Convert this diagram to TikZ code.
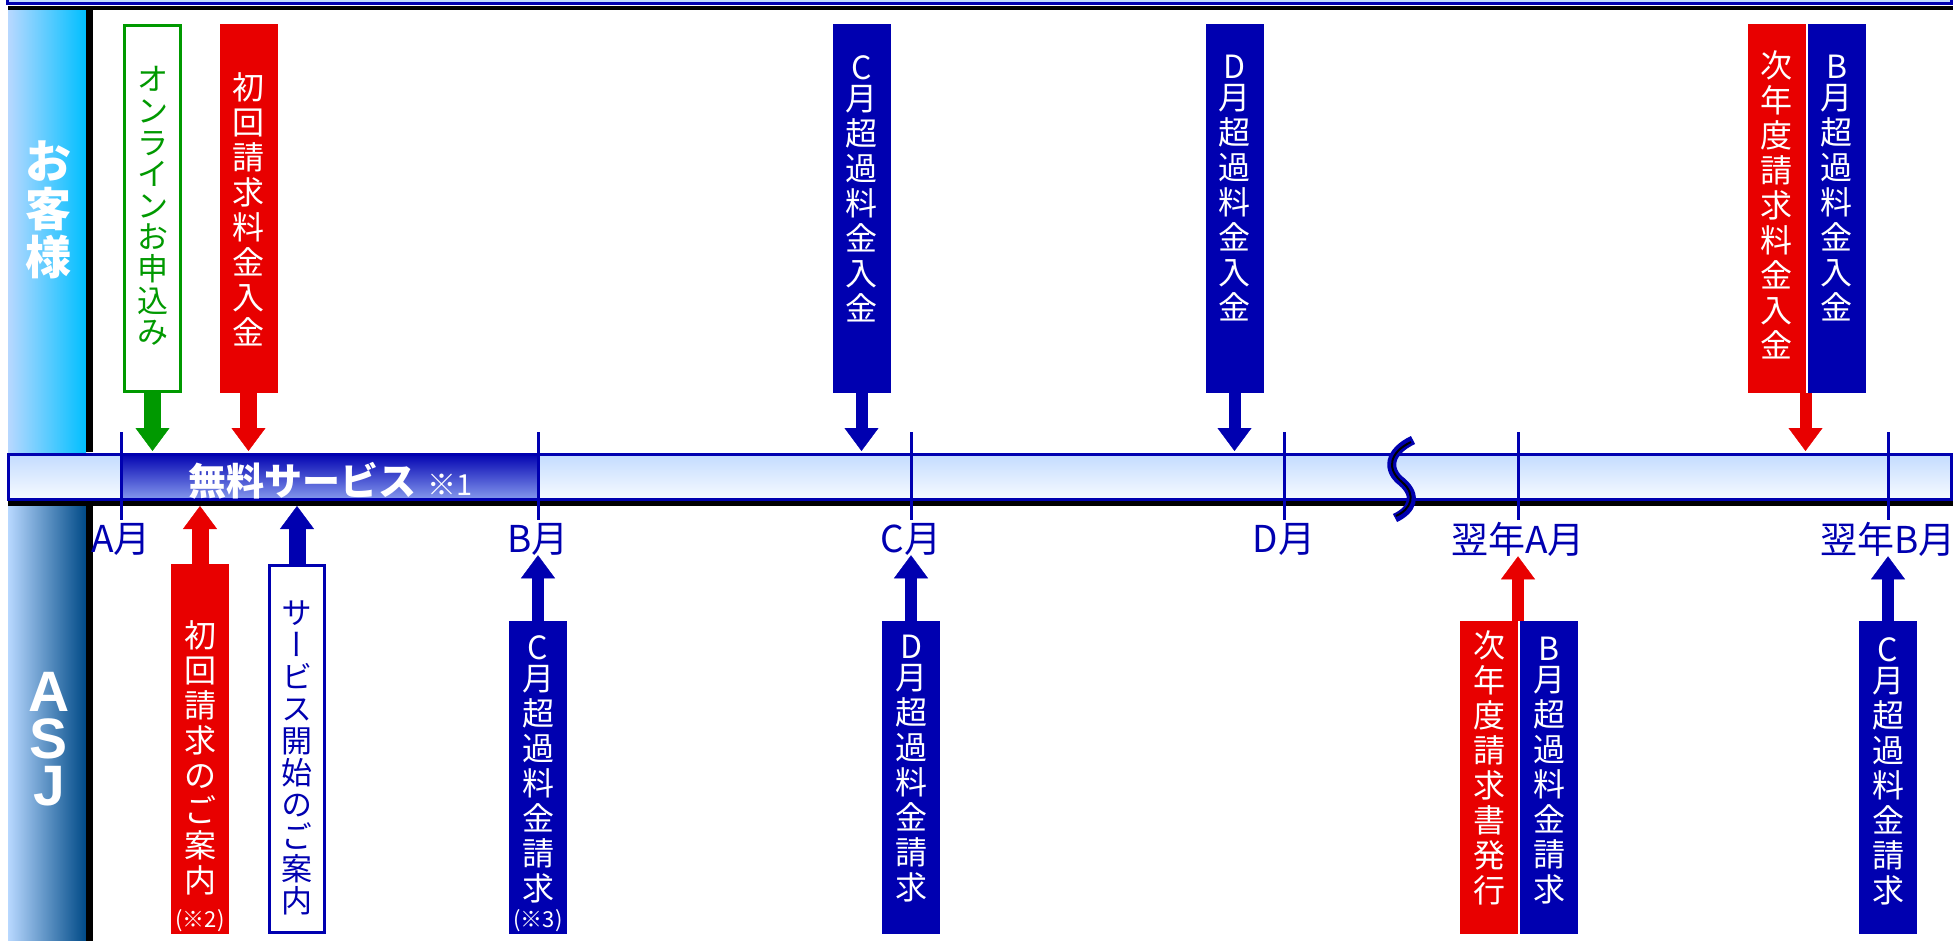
\documentclass[tikz,border=0pt]{standalone}
\usepackage{fontspec}
\setmainfont{Noto Sans CJK JP}
\newfontfamily\vjp{Noto Sans CJK JP}[RawFeature=+vert]
\newfontfamily\arialb{Liberation Sans}
\usetikzlibrary{arrows.meta, positioning}
\definecolor{asjred}{RGB}{232,0,0}
\definecolor{asjblue}{RGB}{0,0,176}
\definecolor{asjgreen}{RGB}{0,153,0}
\definecolor{barlight}{RGB}{194,219,255}
\definecolor{barwhite}{RGB}{248,251,255}
\definecolor{barfade}{RGB}{135,155,238}
\definecolor{edgelight}{RGB}{184,216,255}
\definecolor{headcyan}{RGB}{0,191,255}
\definecolor{asjsteel}{RGB}{45,112,178}
\definecolor{asjnavy}{RGB}{0,74,135}

\begin{document}
\begin{tikzpicture}[x=1pt, y=-1pt,
  box/.style = {minimum width=58pt, inner sep=0pt, outer sep=0pt},
  topbox/.style = {box, minimum height=369pt},
  lowbox/.style = {box, minimum height=370pt},
  billbox/.style = {box, minimum height=313pt},
  vt/.style = {align=center, inner sep=0pt, text=white, font=\fontsize{32}{35}\selectfont},
  month/.style = {inner sep=0pt, text=asjblue, font=\fontsize{37}{37}\selectfont},
  arr/.style = {line width=#1, -{Triangle[length=23pt, width=34pt, line width=0.4pt]}},
  arr/.default = 12pt,
  tick/.style = {asjblue, line width=3pt}]
\useasboundingbox (0,0) rectangle (1957,941);

\path[left color=edgelight, middle color=headcyan, right color=headcyan] (8,10) rectangle (86,452);
\path[left color=edgelight, middle color=asjsteel, right color=asjnavy] (8,506) rectangle (86,941);
\fill[black] (86,10) rectangle (93,452);
\fill[black] (86,506) rectangle (93,941);
\filldraw[fill=barlight, draw=asjblue, line width=3pt] (7,-20) rectangle (1951,4);
\fill[black] (8,6) rectangle (1953,10);

\path[top color=barlight, bottom color=barwhite] (8,453) rectangle (1951,500);
\path[top color=asjblue, middle color=asjblue!92!white, bottom color=barfade] (121,453) rectangle (538,500);
\draw[asjblue, line width=3pt] (8,454) rectangle (1951,499);
\fill[black] (8,501) rectangle (1953,506);
\draw[asjblue, line width=9pt] (1413,440) .. controls (1388,452) and (1386,470) .. (1402,482) .. controls (1418,496) and (1412,510) .. (1395,518);
\draw[black, line width=2pt] (1411,442) .. controls (1388,453) and (1387,470) .. (1402,482) .. controls (1417,495) and (1411,509) .. (1396,516);

\draw[tick] (121,432) -- (121,520);
\draw[tick] (538,432) -- (538,520);
\draw[tick] (911,432) -- (911,520);
\draw[tick] (1284,432) -- (1284,520);
\draw[tick] (1518,432) -- (1518,520);
\draw[tick] (1888,432) -- (1888,520);

\node[anchor=base west, inner sep=0pt, text=white, font=\bfseries\fontsize{38}{38}\selectfont] (free) at (188,495) {無料サービス\hspace{11pt}{\mdseries\fontsize{29}{29}\selectfont ※1}};
\node[align=center, inner sep=0pt, text=white, font=\bfseries\fontsize{46}{48}\selectfont] (cust) at (48,210) {お\\客\\様};
\node[align=center, inner sep=0pt, text=white, font=\arialb\bfseries\fontsize{57}{47}\selectfont] (asj) at (49,739) {A\\S\\J};

\node[topbox, draw=asjgreen, fill=white, line width=3pt, minimum width=56pt, minimum height=366pt] (apply) at (152.5,208.5) {};
\node[topbox, fill=asjred] (pay1) at (248.5,208.5) {};
\node[topbox, fill=asjblue] (payC) at (861.5,208.5) {};
\node[topbox, fill=asjblue] (payD) at (1234.5,208.5) {};
\node[topbox, fill=asjred] (payN) at (1776.5,208.5) {};
\node[topbox, fill=asjblue, right=2pt of payN] (payB) {};

\node[vt, text=asjgreen, font=\fontsize{31}{31.6}\selectfont, below=41pt of apply.north] (applyt) {オ\\ン\\ラ\\イ\\ン\\お\\申\\込\\み};
\node[vt, below=48pt of pay1.north] (pay1t) {初\\回\\請\\求\\料\\金\\入\\金};
\node[vt, below=31pt of payC.north] (payCt) {C\\[-4pt]月\\超\\過\\料\\金\\入\\金};
\node[vt, below=31pt of payD.north] (payDt) {D\\[-4pt]月\\超\\過\\料\\金\\入\\金};
\node[vt, below=26pt of payN.north] (payNt) {次\\年\\度\\請\\求\\料\\金\\入\\金};
\node[vt, below=31pt of payB.north] (payBt) {B\\[-4pt]月\\超\\過\\料\\金\\入\\金};

\node[lowbox, fill=asjred] (notice1) at (200,749) {};
\node[lowbox, draw=asjblue, fill=white, line width=3pt, minimum width=55pt, minimum height=367pt] (notice2) at (297,749) {};
\node[billbox, fill=asjblue] (billC) at (538,777.5) {};
\node[billbox, fill=asjblue] (billD) at (911,777.5) {};
\node[billbox, fill=asjred] (billN) at (1489,777.5) {};
\node[billbox, fill=asjblue, right=2pt of billN] (billB) {};
\node[billbox, fill=asjblue] (billC2) at (1888,777.5) {};

\node[vt, below=56pt of notice1.north] (notice1t) {初\\回\\請\\求\\の\\ご\\案\\内\\{\fontsize{22}{22}\selectfont(※2)}};
\node[vt, text=asjblue, font=\vjp\fontsize{31}{32}\selectfont, below=35pt of notice2.north] (notice2t) {サ\\ー\\ビ\\ス\\開\\始\\の\\ご\\案\\内};
\node[vt, below=14pt of billC.north] (billCt) {C\\[-4pt]月\\超\\過\\料\\金\\請\\求\\[-8pt]{\fontsize{22}{22}\selectfont(※3)}};
\node[vt, below=14pt of billD.north] (billDt) {D\\[-4pt]月\\超\\過\\料\\金\\請\\求};
\node[vt, below=9pt of billN.north] (billNt) {次\\年\\度\\請\\求\\書\\発\\行};
\node[vt, below=16pt of billB.north] (billBt) {B\\[-4pt]月\\超\\過\\料\\金\\請\\求};
\node[vt, below=16pt of billC2.north] (billC2t) {C\\[-4pt]月\\超\\過\\料\\金\\請\\求};

\node[month] (mA) at (121,539) {A月};
\node[month] (mB) at (538,539) {B月};
\node[month] (mC) at (911,539) {C月};
\node[month] (mD) at (1284,539) {D月};
\node[month] (mNA) at (1518,539) {翌年A月};
\node[month] (mNB) at (1888,539) {翌年B月};

\coordinate (bartop) at (0,451);
\coordinate (barbot) at (0,506);
\draw[arr=17pt, asjgreen] (apply) -- (apply |- bartop);
\draw[arr=17pt, asjred] (pay1) -- (pay1 |- bartop);
\draw[arr, asjblue] (payC) -- (payC |- bartop);
\draw[arr, asjblue] (payD) -- (payD |- bartop);
\draw[arr, asjred] (payN.south east) -- (payN.south east |- bartop);
\draw[arr=17pt, asjred] (notice1) -- (notice1 |- barbot);
\draw[arr=17pt, asjblue] (notice2) -- (notice2 |- barbot);
\draw[arr, asjblue] (billC) -- (mB);
\draw[arr, asjblue] (billD) -- (mC);
\draw[arr, asjred] (billN.north east) -- (mNA.south);
\draw[arr, asjblue] (billC2) -- (mNB);
\end{tikzpicture}
\end{document}
